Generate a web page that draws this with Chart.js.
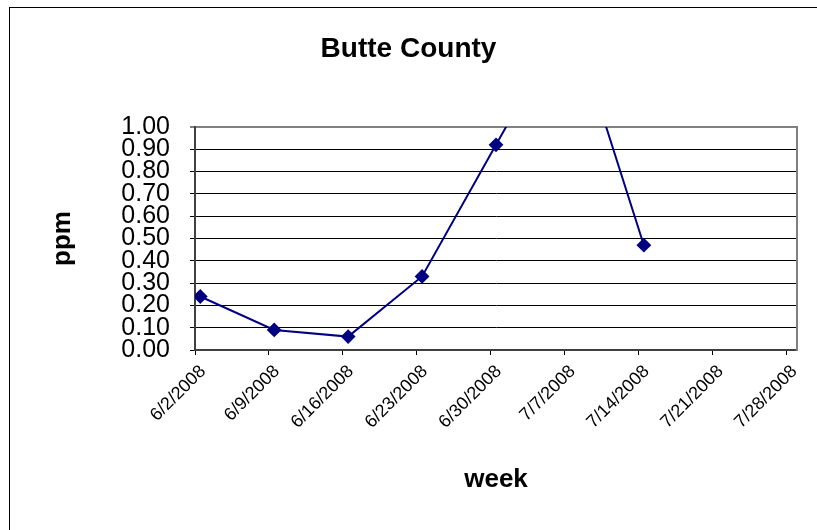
<!DOCTYPE html>
<html>
<head>
<meta charset="utf-8">
<script src="https://cdn.jsdelivr.net/npm/chart.js@4"></script>
<style>
  html, body { margin: 0; padding: 0; background: #fff; overflow: hidden; }
  #frame { position: absolute; left: 9px; top: 7px; width: 900px; height: 600px; border: 1px solid #000; }
  #wrap { position: absolute; left: 0; top: 0; width: 817px; height: 530px; }
</style>
</head>
<body>
<div id="frame"></div>
<div id="wrap"><canvas id="grafico"></canvas></div>
<script>
// Date dei campioni e valori (ppm)
const sampleDates = ["6/2/2008", "6/9/2008", "6/16/2008", "6/23/2008", "6/30/2008", "7/7/2008", "7/14/2008"];
const ppmValues = [0.24, 0.09, 0.06, 0.33, 0.92, 1.51, 0.47];

// Etichette dell'asse x (settimane) e dell'asse y
const weekLabels = ["6/2/2008", "6/9/2008", "6/16/2008", "6/23/2008", "6/30/2008", "7/7/2008", "7/14/2008", "7/21/2008", "7/28/2008"];
const ppmTicks = [0, 0.1, 0.2, 0.3, 0.4, 0.5, 0.6, 0.7, 0.8, 0.9, 1.0];

const FONT = "'Liberation Sans', Arial, sans-serif";

// giorni dal 6/2/2008
function dayOf(s) {
    const [m, d, y] = s.split("/").map(Number);
    return Math.round((Date.UTC(y, m - 1, d) - Date.UTC(2008, 5, 2)) / 86400000);
}
const tickDays = weekLabels.map(dayOf);
const lastDay = tickDays[tickDays.length - 1] + 1;

const ctx = document.getElementById("grafico").getContext("2d");
new Chart(ctx, {
    type: "line",
    data: {
        datasets: [{
            label: "ppm",
            // il punto sta a metà del giorno, come nell'asse date di Excel
            data: sampleDates.map((d, i) => ({ x: dayOf(d) + 0.5, y: ppmValues[i] })),
            borderColor: "#000080",
            backgroundColor: "#000080",
            borderWidth: 2,
            pointStyle: "rectRot",
            pointRadius: 6,
            pointHoverRadius: 6,
            tension: 0,
            clip: 0
        }]
    },
    options: {
        responsive: true,
        maintainAspectRatio: false,
        animation: false,
        layout: { padding: 0 },
        plugins: {
            legend: { display: false },
            tooltip: { enabled: false },
            title: {
                display: true,
                text: "Butte County",
                color: "#000",
                font: { family: FONT, size: 28, weight: "bold" },
                padding: { top: 32, bottom: 61.4 }
            }
        },
        scales: {
            x: {
                type: "linear",
                min: 0,
                max: lastDay,
                afterBuildTicks: s => { s.ticks = tickDays.map(v => ({ value: v })); },
                afterFit: s => { s.height = 180; },
                ticks: {
                    autoSkip: false,
                    minRotation: 45,
                    maxRotation: 45,
                    padding: 6,
                    labelOffset: 8,
                    color: "#000",
                    font: { family: FONT, size: 18 },
                    callback: (v, i) => weekLabels[i]
                },
                grid: { drawOnChartArea: false, drawTicks: true, tickLength: 5, color: "#000" },
                border: { color: "#404040", width: 2 },
                title: {
                    display: true,
                    text: "week",
                    color: "#000",
                    font: { family: FONT, size: 26, weight: "bold" },
                    padding: { top: 0, bottom: 35 }
                }
            },
            y: {
                min: 0,
                max: 1,
                afterBuildTicks: s => { s.ticks = ppmTicks.map(v => ({ value: v })); },
                afterFit: s => { s.width = 195; },
                ticks: {
                    autoSkip: false,
                    padding: 20,
                    color: "#000",
                    font: { family: FONT, size: 25, lineHeight: 1 },
                    callback: v => v.toFixed(2)
                },
                grid: {
                    tickLength: 5,
                    color: c => (c.tick && c.tick.value === 1 ? "#808080" : "#000"),
                    lineWidth: c => (c.tick && c.tick.value === 1 ? 2 : 1)
                },
                border: { color: "#404040", width: 2 },
                title: {
                    display: true,
                    text: "ppm",
                    color: "#000",
                    font: { family: FONT, size: 26, weight: "bold" },
                    padding: { top: 47, bottom: 0 }
                }
            },
            y2: {
                position: "right",
                display: true,
                min: 0,
                max: 1,
                afterFit: s => { s.width = 20; },
                ticks: { display: false },
                grid: { drawOnChartArea: false, drawTicks: false },
                border: { color: "#808080", width: 2 }
            }
        }
    }
});
</script>
</body>
</html>
